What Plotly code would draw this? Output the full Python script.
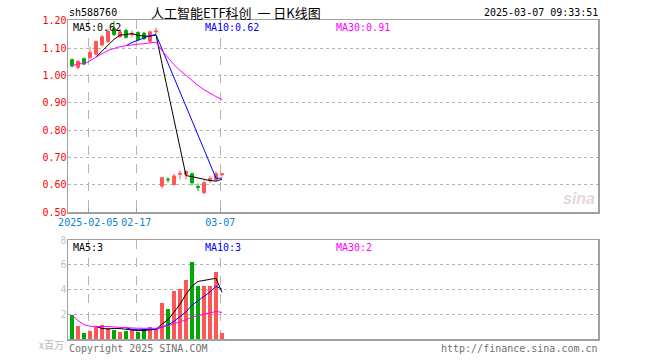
import plotly.graph_objects as go
import pandas as pd

dates = ["2025-01-23", "2025-01-24", "2025-01-27", "2025-02-05", "2025-02-06", "2025-02-07",
         "2025-02-10", "2025-02-11", "2025-02-12", "2025-02-13", "2025-02-14", "2025-02-17",
         "2025-02-18", "2025-02-19", "2025-02-20", "2025-02-21", "2025-02-24", "2025-02-25",
         "2025-02-26", "2025-02-27", "2025-02-28", "2025-03-03", "2025-03-04", "2025-03-05",
         "2025-03-06", "2025-03-07"]
opens = [1.058, 1.030, 1.062, 1.066, 1.078, 1.112, 1.125, 1.172, 1.142, 1.165, 1.150, 1.158, 1.155,
         1.125, 1.160, 0.595, 0.620, 0.601, 0.638, 0.638, 0.640, 0.594, 0.571, 0.615, 0.619, 0.636]
highs = [1.063, 1.056, 1.066, 1.105, 1.128, 1.150, 1.170, 1.200, 1.170, 1.172, 1.165, 1.162, 1.160,
         1.165, 1.175, 0.628, 0.628, 0.640, 0.652, 0.651, 0.645, 0.605, 0.616, 0.631, 0.649, 0.642]
lows = [1.030, 1.022, 1.038, 1.062, 1.074, 1.106, 1.120, 1.145, 1.138, 1.135, 1.140, 1.128, 1.130,
        1.120, 1.152, 0.587, 0.608, 0.597, 0.619, 0.619, 0.597, 0.577, 0.564, 0.607, 0.612, 0.630]
closes = [1.035, 1.052, 1.042, 1.085, 1.125, 1.142, 1.162, 1.150, 1.160, 1.140, 1.155, 1.132, 1.135,
          1.160, 1.163, 0.626, 0.618, 0.632, 0.642, 0.649, 0.607, 0.590, 0.607, 0.623, 0.640, 0.640]
volumes = [1.92, 1.07, 0.48, 0.67, 0.93, 1.12, 0.85, 0.72, 0.59, 0.67, 0.80, 0.60, 0.80,
           0.93, 0.80, 2.88, 2.40, 3.87, 4.08, 4.80, 6.19, 4.32, 4.32, 4.32, 5.39, 0.48]

price_ticks = [0.50, 0.60, 0.70, 0.80, 0.90, 1.00, 1.10, 1.20]
vol_ticks = [2, 4, 6, 8]
date_ticks = ["2025-02-05", "2025-02-17", "2025-03-07"]
date_tick_text = ["2025-02-05", "02-17", "03-07"]

RED = "#ff5555"
GREEN = "#00a800"
MONO = "DejaVu Sans Mono"

xi = list(range(len(dates)))
cs = pd.Series(closes)
vs = pd.Series(volumes)
ma5 = cs.rolling(5).mean()
ma10 = cs.rolling(10).mean()
ma30 = cs.rolling(30, min_periods=1).mean()
vma5 = vs.rolling(5).mean()
vma10 = vs.rolling(10).mean()
vma30 = vs.rolling(30, min_periods=1).mean()
vol_colors = [RED if c >= o else GREEN for o, c in zip(opens, closes)]

fig = go.Figure()
fig.add_trace(go.Candlestick(
    x=xi, open=opens, high=highs, low=lows, close=closes,
    increasing=dict(line=dict(color=RED, width=1), fillcolor=RED),
    decreasing=dict(line=dict(color=GREEN, width=1), fillcolor=GREEN),
    whiskerwidth=0, xaxis="x", yaxis="y", showlegend=False))
for s, col in [(ma5, "black"), (ma10, "#0000ff"), (ma30, "#ff00ff")]:
    fig.add_trace(go.Scatter(x=xi, y=s, mode="lines", line=dict(color=col, width=1),
                             xaxis="x", yaxis="y", showlegend=False))

fig.add_trace(go.Bar(x=xi, y=volumes, marker=dict(color=vol_colors, line=dict(width=0)),
                     width=0.8, xaxis="x2", yaxis="y2", showlegend=False))
for s, col in [(vma5, "black"), (vma10, "#0000ff"), (vma30, "#ff00ff")]:
    fig.add_trace(go.Scatter(x=xi, y=s, mode="lines", line=dict(color=col, width=1),
                             xaxis="x2", yaxis="y2", showlegend=False))

tickpos = [dates.index(d) - 0.3 for d in date_ticks]
xr = [-0.67, 87.67]
grid = "#b4b4b4"
border = "#a0a0a0"

fig.update_layout(
    width=660, height=360,
    margin=dict(l=68, r=62, t=20, b=21, autoexpand=False),
    paper_bgcolor="white", plot_bgcolor="white",
    bargap=0,
    xaxis=dict(domain=[0, 1], range=xr, anchor="y", tickvals=tickpos, ticktext=date_tick_text,
               tickangle=0, automargin=False,
               showgrid=True, gridcolor=grid, griddash="dash", gridwidth=1,
               tickfont=dict(family=MONO, size=10, color="#0a7fd1"),
               ticks="inside", ticklen=4, tickcolor=border,
               showline=True, mirror=True, linecolor=border, linewidth=1.5,
               zeroline=False, rangeslider=dict(visible=False), fixedrange=True),
    yaxis=dict(domain=[0.398, 1.0], range=[0.50, 1.2035], anchor="x", tickvals=price_ticks,
               ticktext=[f"{v:.2f}" for v in price_ticks], automargin=False,
               tickfont=dict(family=MONO, size=10, color="#ff0000"),
               ticklabelstandoff=-2,
               showgrid=True, gridcolor=grid, griddash="dot", gridwidth=1,
               showline=True, mirror=True, linecolor=border, linewidth=1.5,
               zeroline=False, ticks="", ticklen=0, fixedrange=True),
    xaxis2=dict(domain=[0, 1], range=xr, anchor="y2", tickvals=tickpos, showticklabels=False,
                automargin=False,
                showgrid=True, gridcolor=grid, griddash="dash", gridwidth=1,
                showline=True, mirror=True, linecolor=border, linewidth=1.5, zeroline=False,
                fixedrange=True),
    yaxis2=dict(domain=[0, 0.3103], range=[0, 8], anchor="x2", tickvals=vol_ticks,
                ticktext=[str(v) for v in vol_ticks], automargin=False,
                tickfont=dict(family=MONO, size=10, color="#c4c4c4"),
                ticklabelstandoff=-2,
                showgrid=True, gridcolor=grid, griddash="dot", gridwidth=1,
                showline=True, mirror=True, linecolor=border, linewidth=1.5,
                zeroline=False, ticklen=0, fixedrange=True),
)

ann = []
def txt(x, y, s, color="black", size=10, xanchor="left", family=MONO):
    ann.append(dict(x=x, y=y, xref="paper", yref="paper", text=s, showarrow=False,
                    xanchor=xanchor, yanchor="middle", xshift=0,
                    font=dict(family=family, size=size, color=color)))

W, H = 530.0, 319.0
def px(x):
    return (x - 68) / W
def py(y):
    return (339 - y) / H

txt(px(67), py(12), "sh588760")
txt(px(149), py(12), "人工智能ETF科创&nbsp;&nbsp;一&nbsp;日K线图", size=13,
    family="Noto Sans CJK SC")
txt(px(600), py(12), "2025-03-07 09:33:51", xanchor="right")
txt(px(71), py(27), "MA5:0.62")
txt(px(203), py(27), "MA10:0.62", color="#0000ff")
txt(px(334), py(27), "MA30:0.91", color="#ff00ff")
txt(px(71), py(247), "MA5:3")
txt(px(203), py(247), "MA10:3", color="#0000ff")
txt(px(334), py(247), "MA30:2", color="#ff00ff")
txt(px(66), py(344), "x百万", color="#b8b8b8", size=10, xanchor="right",
    family="Noto Sans CJK SC")
txt(px(67), py(348), "Copyright 2025 SINA.COM", color="#707070")
txt(px(600), py(348), "http://finance.sina.com.cn", color="#707070", xanchor="right")
txt(px(597), py(199), "<i><b>sina</b></i>", color="#e6d8d8", size=16, xanchor="right",
    family="Liberation Sans")
fig.update_layout(annotations=ann)

fig.write_html("out.html", config={"displayModeBar": False, "staticPlot": True},
               post_script="document.body.style.margin='0';document.body.style.overflow='hidden';")
